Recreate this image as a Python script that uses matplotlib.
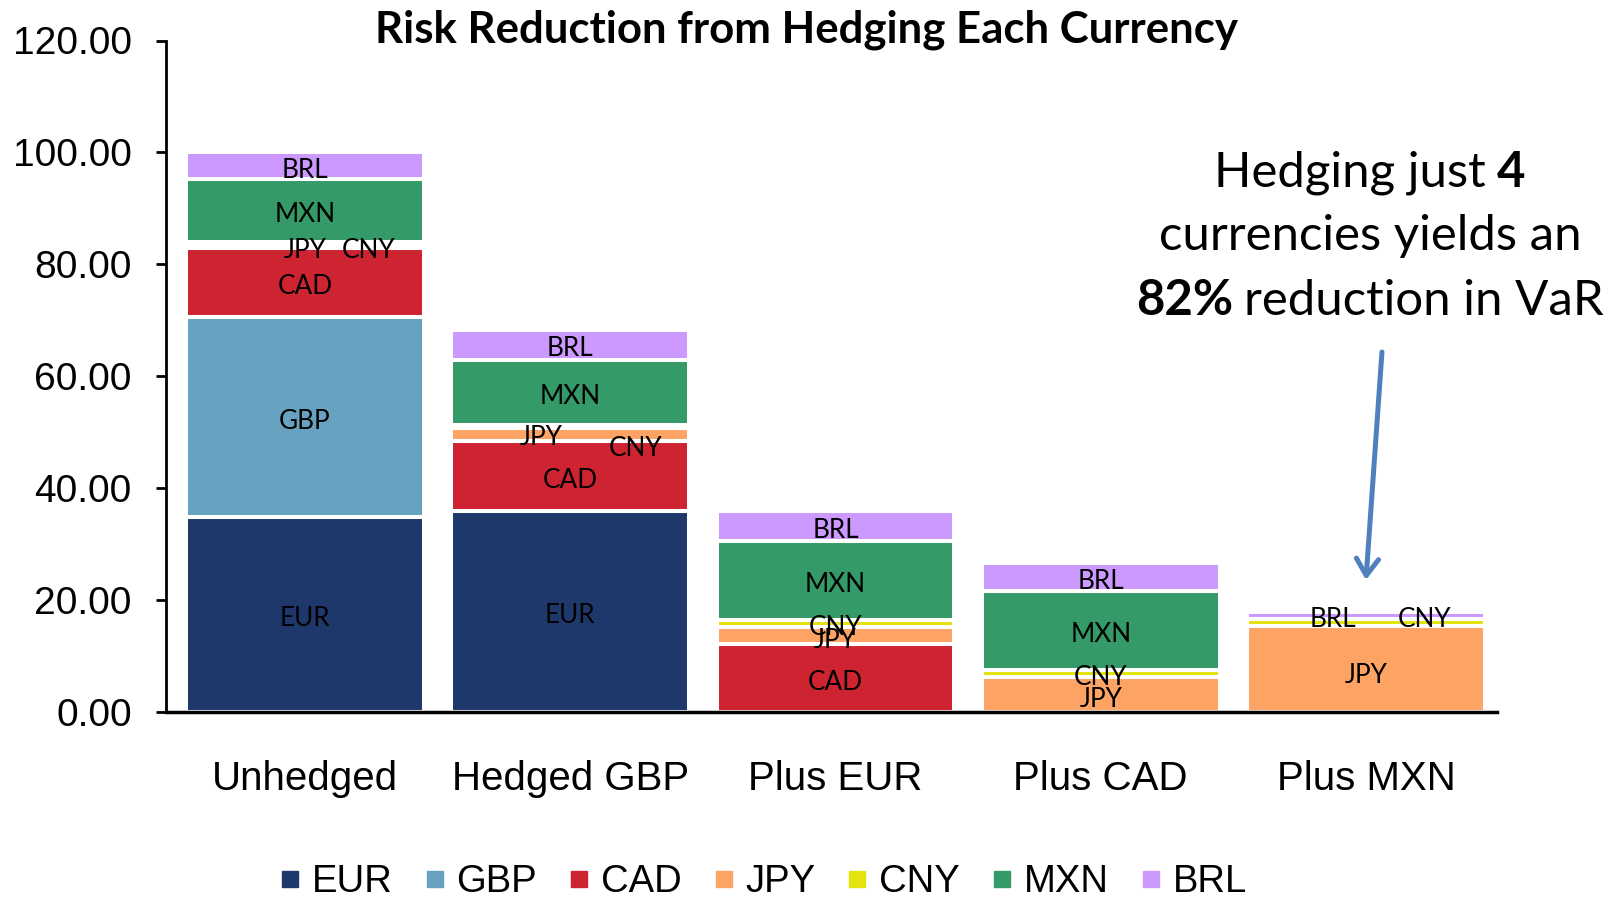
import matplotlib
matplotlib.use('Agg')
import matplotlib.pyplot as plt
import numpy as np
from matplotlib.offsetbox import TextArea, HPacker, AnnotationBbox
from matplotlib.lines import Line2D

# ---------------- data ----------------
categories = ['Unhedged', 'Hedged GBP', 'Plus EUR', 'Plus CAD', 'Plus MXN']
currencies = ['EUR', 'GBP', 'CAD', 'JPY', 'CNY', 'MXN', 'BRL']
eur = [34.8, 36.0, 0.0, 0.0, 0.0]
gbp = [35.85, 0.0, 0.0, 0.0, 0.0]
cad = [12.2, 12.35, 12.2, 0.0, 0.0]
jpy = [0.6, 2.45, 3.0, 6.3, 15.4]
cny = [0.6, 0.5, 1.2, 1.2, 1.2]
mxn = [11.15, 11.6, 14.1, 14.2, 0.0]
brl = [4.8, 5.45, 5.4, 4.9, 1.25]
y_ticks = [0, 20, 40, 60, 80, 100, 120]
title = 'Risk Reduction from Hedging Each Currency'
note_lines = [[('Hedging just', 'normal'), ('4', 'bold')],
              [('currencies yields an', 'normal')],
              [('82%', 'bold'), ('reduction in VaR', 'normal')]]

series = [eur, gbp, cad, jpy, cny, mxn, brl]
colors = ['#1F386B', '#67A2C0', '#CE2330', '#FDA465', '#E3E30D', '#349A67', '#CC99FF']

# manual label nudges (points) for crowded segments
label_offsets = {(0, 'CNY'): (46, -2), (1, 'JPY'): (-21, 1), (1, 'CNY'): (47, -13),
                 (2, 'JPY'): (0, -1), (3, 'JPY'): (0, -1), (3, 'CNY'): (0, 0),
                 (4, 'BRL'): (-24, 0), (4, 'CNY'): (42, 5), (4, 'JPY'): (0, -2)}
label_dy = -3  # general downward shift of segment labels (points)

ARIAL = 'Liberation Sans'
CALIBRI = 'Lato'

W, H = 1617, 899
fig = plt.figure(figsize=(W / 100, H / 100), dpi=100)
renderer = fig.canvas.get_renderer()

def fit_size(s, family, weight, target_px, base=20.0):
    t = fig.text(0, 0, s, fontsize=base, family=family, weight=weight)
    w = t.get_window_extent(renderer).width
    t.remove()
    return base * target_px / w

ax = fig.add_axes([166 / W, 1 - 712 / H, (1497 - 166) / W, (712 - 40.5) / H])

x = np.arange(len(categories))
bottom = np.zeros(len(categories))
label_fs = fit_size('MXN', CALIBRI, 'normal', 61)
for name, vals, col in zip(currencies, series, colors):
    vals = np.array(vals, dtype=float)
    ax.bar(x, vals, bottom=bottom, width=0.897, color=col, edgecolor='white',
           linewidth=2.9, label=name)
    for i, v in enumerate(vals):
        if v > 0:
            dx, dy = label_offsets.get((i, name), (0, 0))
            ax.annotate(name, xy=(x[i], bottom[i] + v / 2), xytext=(dx, dy + label_dy),
                        textcoords='offset points', ha='center', va='center',
                        fontsize=label_fs, family=CALIBRI, color='black')
    bottom = bottom + vals

ax.set_xlim(-0.524, 4.494)
ax.set_ylim(0, 120)
ax.set_yticks(y_ticks)
ax.set_yticklabels([f'{v:.2f}' for v in y_ticks], family=ARIAL, fontsize=28)
ax.set_xticks(x)
ax.set_xticklabels(categories, family=ARIAL, fontsize=29)
ax.tick_params(axis='y', direction='out', length=7.2, width=2, pad=17.5)
ax.tick_params(axis='x', length=0, pad=34.5)
for s in ['top', 'right']:
    ax.spines[s].set_visible(False)
ax.spines['left'].set_linewidth(2)
ax.spines['bottom'].set_linewidth(2.5)

# title
title_fs = fit_size(title, CALIBRI, 'bold', 863)
fig.text(806.5 / W, 1 - 30 / H, title, ha='center', va='center',
         fontsize=title_fs, family=CALIBRI, weight='bold')

# legend
handles = [Line2D([], [], marker='s', linestyle='none', markersize=12.2,
                  markerfacecolor=c, markeredgecolor=c) for c in colors]
ax.legend(handles, currencies, loc='center', bbox_to_anchor=(764 / W, 1 - 882 / H),
          bbox_transform=fig.transFigure, ncol=7, frameon=False,
          prop={'family': ARIAL, 'size': 27.5}, handlelength=0.45,
          handletextpad=0.34, columnspacing=0.88, borderpad=0, borderaxespad=0)

# annotation text
note_fs = fit_size('currencies yields an', CALIBRI, 'normal', 425)
px_per_unit = (712 - 40.5) / 120.0
line_y_px = [172.5, 236.5, 300.5]
for parts, ypx in zip(note_lines, line_y_px):
    boxes = [TextArea(t, textprops=dict(fontsize=note_fs, family=CALIBRI, weight=wt))
             for t, wt in parts]
    pack = HPacker(children=boxes, align='baseline', pad=0, sep=0.22 * note_fs)
    ab = AnnotationBbox(pack, (4 + 4 / 265.3, (712 - ypx) / px_per_unit),
                        xycoords='data', box_alignment=(0.5, 0.5), frameon=False,
                        annotation_clip=False)
    ax.add_artist(ab)

# arrow
ax.annotate('', xy=(4.0, (712 - 580) / px_per_unit),
            xytext=(4 + 16 / 265.3, (712 - 352) / px_per_unit),
            arrowprops=dict(arrowstyle='->, head_length=0.6, head_width=0.4',
                            color='#4F81BD', lw=3.6, shrinkA=0, shrinkB=0,
                            mutation_scale=20),
            annotation_clip=False)

fig.savefig('out.png', dpi=100)
